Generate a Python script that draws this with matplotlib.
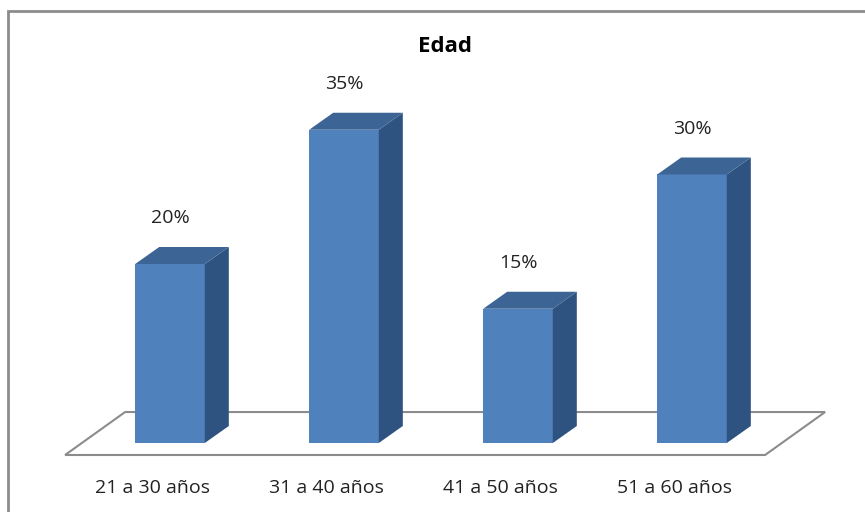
import matplotlib.pyplot as plt
from matplotlib.patches import Polygon, Rectangle

categorias = ['21 a 30 años', '31 a 40 años', '41 a 50 años', '51 a 60 años']
valores = [20, 35, 15, 30]
etiquetas = ['20%', '35%', '15%', '30%']

plt.rcParams['font.family'] = ['Open Sans', 'DejaVu Sans']

fig = plt.figure(figsize=(8.65, 5.12), dpi=100)
ax = fig.add_axes([83 / 865, 24.25 / 512, 696 / 865, 447.5 / 512])
ax.set_xlim(-0.5, 3.5)
ax.set_ylim(-5, 45)
ax.axis('off')

# profundidad de las barras (efecto 3D)
dx, dy = 0.138, 1.9
ancho = 0.4

# piso
fx0, fx1 = -0.603, 3.42
fy = -1.34
px, py = 0.345, 4.8
piso = Polygon([(fx0, fy), (fx1, fy), (fx1 + px, fy + py), (fx0 + px, fy + py)],
               closed=True, facecolor='white', edgecolor='#8c8c8c', lw=1.5,
               zorder=1, clip_on=False)
ax.add_patch(piso)

for i, v in enumerate(valores):
    x0 = i - ancho / 2
    x1 = i + ancho / 2
    ax.bar(i, v, width=ancho, color='#4F81BD', zorder=3)
    lado = Polygon([(x1, 0), (x1 + dx, dy), (x1 + dx, v + dy), (x1, v)],
                   closed=True, facecolor='#2F5380', edgecolor='none', zorder=3)
    tapa = Polygon([(x0, v), (x1, v), (x1 + dx, v + dy), (x0 + dx, v + dy)],
                   closed=True, facecolor='#3C6494', edgecolor='none', zorder=3)
    ax.add_patch(lado)
    ax.add_patch(tapa)
    ax.text(i, v + 5.1, etiquetas[i], ha='center', va='center', fontsize=14, color='#222222')
    ax.text(i - 0.103, -5.0, categorias[i], ha='center', va='center', fontsize=14,
            color='#222222', clip_on=False)

fig.text(445 / 865, 1 - 47 / 512, 'Edad', ha='center', va='center',
         fontsize=16, fontweight='bold', color='black')

# marco del gráfico
fig.patches.append(Rectangle((8 / 865, -0.1), 1.1, 1 - 11 / 512 + 0.1,
                             transform=fig.transFigure, fill=False,
                             edgecolor='#8c8c8c', lw=2))

fig.savefig('out.png', dpi=100)
